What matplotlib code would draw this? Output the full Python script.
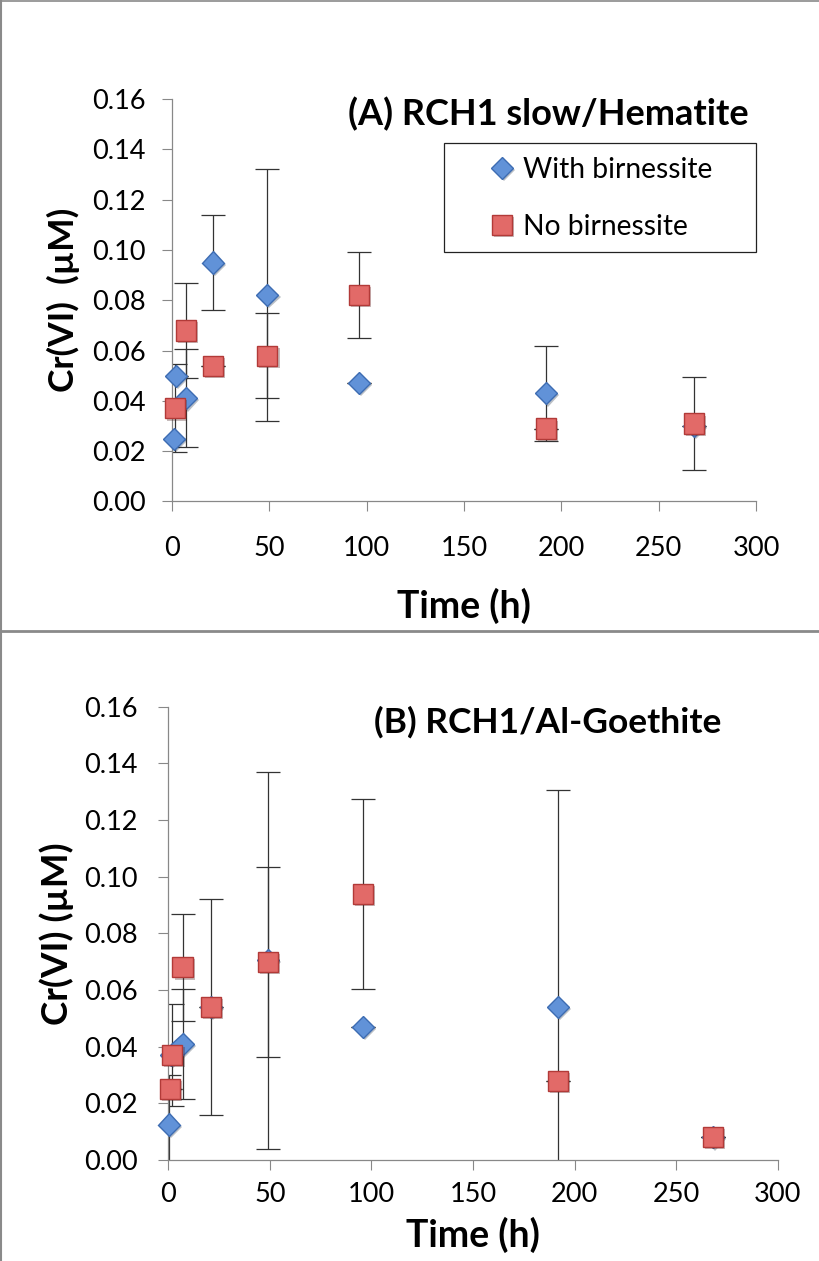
import numpy as np
import matplotlib.pyplot as plt
import matplotlib.patheffects as pe
from matplotlib.lines import Line2D
from matplotlib.patches import Rectangle

plt.rcParams['font.family'] = ['Lato', 'DejaVu Sans']

# (A) RCH1 slow/Hematite
a_with_t = [1, 2, 7, 21, 49, 96, 192, 268]
a_with_y = [0.025, 0.050, 0.041, 0.095, 0.082, 0.047, 0.043, 0.030]
a_with_err = [0, 0, 0.0195, 0.019, 0.050, 0, 0.019, 0]

a_no_t = [1.5, 7, 21, 49, 96, 192, 268]
a_no_y = [0.037, 0.068, 0.054, 0.058, 0.082, 0.029, 0.031]
a_no_err = [0.0175, 0.019, 0, 0.017, 0.017, 0, 0.0185]

# (B) RCH1/Al-Goethite
b_with_t = [0.5, 1.5, 7, 21, 49, 96, 192, 268]
b_with_y = [0.0125, 0.037, 0.041, 0.054, 0.0705, 0.047, 0.054, 0.008]
b_with_err = [0.0175, 0, 0.0195, 0, 0.0665, 0, 0.0765, 0]

b_no_t = [1, 2, 7, 21, 49, 96, 192, 268]
b_no_y = [0.025, 0.037, 0.068, 0.054, 0.070, 0.094, 0.028, 0.008]
b_no_err = [0, 0.018, 0.019, 0.038, 0.0335, 0.0335, 0, 0]

yticks = np.arange(0, 0.161, 0.02)
xticks = np.arange(0, 301, 50)

W, H = 820, 1261
fig = plt.figure(figsize=(W/100, H/100), dpi=100)

axA = fig.add_axes([172/W, 1-501.5/H, 584/W, 402.5/H])
axB = fig.add_axes([168.3/W, 1-1160/H, 609.4/W, 453.3/H])

shadow = [pe.SimplePatchShadow(offset=(1.5, -1.5), alpha=0.3), pe.Normal()]
blue = dict(marker='D', ms=11.3, mfc='#6192d8', mec='#3d6cb2', mew=1.0)
red = dict(marker='s', ms=14.5, mfc='#e26a68', mec='#b23a38', mew=1.0)


def draw(ax, wt, wy, we, nt, ny, ne):
    ax.errorbar(wt, wy, yerr=we, fmt='none', ecolor='#333333',
                elinewidth=0.9, capsize=8.5, capthick=0.9, zorder=2)
    ax.errorbar(nt, ny, yerr=ne, fmt='none', ecolor='#333333',
                elinewidth=0.9, capsize=8.5, capthick=0.9, zorder=2)
    l1, = ax.plot(wt, wy, ls='none', clip_on=False, zorder=3,
                  path_effects=shadow, **blue)
    l2, = ax.plot(nt, ny, ls='none', clip_on=False, zorder=4,
                  path_effects=shadow, **red)
    ax.set_xlim(0, 300)
    ax.set_ylim(0, 0.16)
    ax.set_xticks(xticks)
    ax.set_yticks(yticks)
    ax.set_yticklabels(['%.2f' % v for v in yticks])
    for s in ['top', 'right']:
        ax.spines[s].set_visible(False)
    for s in ['left', 'bottom']:
        ax.spines[s].set_color('#888888')
        ax.spines[s].set_linewidth(0.9)
    ax.tick_params(direction='out', length=7, width=0.8, color='#888888',
                   labelsize=19.5)
    return l1, l2


l1, l2 = draw(axA, a_with_t, a_with_y, a_with_err, a_no_t, a_no_y, a_no_err)
draw(axB, b_with_t, b_with_y, b_with_err, b_no_t, b_no_y, b_no_err)

axA.tick_params(axis='x', pad=18)
axA.tick_params(axis='y', pad=12)
axB.tick_params(axis='x', pad=9)
axB.tick_params(axis='y', pad=15)

axA.set_xlabel('Time (h)', fontsize=27, fontweight='bold')
axA.xaxis.set_label_coords(0.5, -(606-501.5)/402.5)
axA.xaxis.label.set_va('center')
axA.set_ylabel('Cr(VI)  (µM)', fontsize=25.5, fontweight='bold')
axA.yaxis.set_label_coords((63-172)/584, 0.5)
axA.yaxis.label.set_va('center')

axB.set_xlabel('Time (h)', fontsize=27, fontweight='bold')
axB.xaxis.set_label_coords(0.5, -(1235-1160)/453.3)
axB.xaxis.label.set_va('center')
axB.set_ylabel('Cr(VI) (µM)', fontsize=26.5, fontweight='bold')
axB.yaxis.set_label_coords((57-168.3)/609.4, 0.5)
axB.yaxis.label.set_va('center')

fig.text(548/W, 1-114/H, '(A) RCH1 slow/Hematite', fontsize=26,
         fontweight='bold', ha='center', va='center')
fig.text(548/W, 1-722/H, '(B) RCH1/Al-Goethite', fontsize=25.5,
         fontweight='bold', ha='center', va='center')

# legend box
fig.add_artist(Rectangle((444/W, 1-252.3/H), 312/W, 109/H,
                         transform=fig.transFigure, fill=False,
                         ec='#222222', lw=0.9))
fig.legend([l1, l2], ['With birnessite', 'No birnessite'], loc='center',
           bbox_to_anchor=(600/W, 1-198.5/H), frameon=False, fontsize=20.3,
           handlelength=1.0, handletextpad=0.25, labelspacing=1.1,
           markerscale=1.0)

# panel borders
gray = '#8a8a8a'
fig.add_artist(Line2D([0, 1], [1-0.7/H, 1-0.7/H], color=gray, lw=1.2))
fig.add_artist(Line2D([1.5/W, 1.5/W], [0, 1], color=gray, lw=1.5))
fig.add_artist(Line2D([0, 1], [1-631/H, 1-631/H], color=gray, lw=2.0))

fig.savefig('out.png', dpi=100)
